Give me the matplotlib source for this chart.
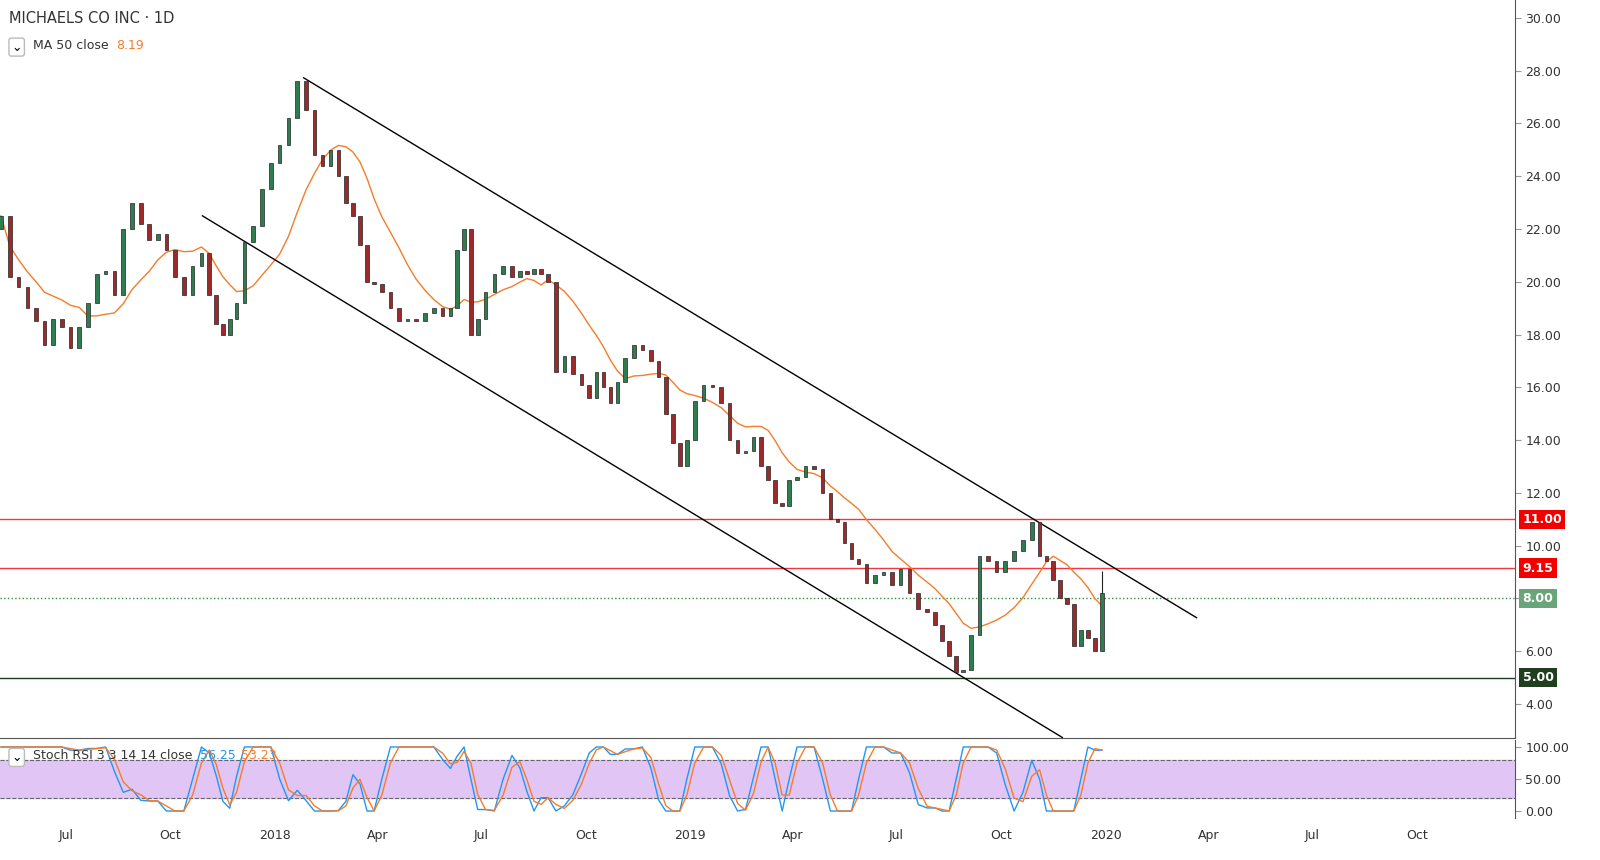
import numpy as np
import pandas as pd
import matplotlib
matplotlib.use('Agg')
import matplotlib.pyplot as plt
import matplotlib.dates as mdates
from matplotlib.patches import Rectangle

# ── Data (weekly closes, grouped by month) ──────────────────────────────────
monthly_closes = {
    '2017-05': [22.5, 20.2, 19.8, 19.0],
    '2017-06': [18.5, 17.6, 18.6, 18.3],
    '2017-07': [17.5, 18.3, 19.2, 20.3],
    '2017-08': [20.4, 19.5, 22.0, 23.0],
    '2017-09': [22.2, 21.6, 21.8, 21.2],
    '2017-10': [20.2, 19.5, 20.6, 21.1],
    '2017-11': [19.5, 18.4, 18.0, 18.6, 19.2],
    '2017-12': [21.5, 22.1, 23.5, 24.5],
    '2018-01': [25.2, 26.2, 27.6, 26.5],
    '2018-02': [24.8, 24.4, 25.0, 24.0],
    '2018-03': [23.0, 22.5, 21.4, 20.0, 19.9],
    '2018-04': [19.6, 19.0, 18.5, 18.6],
    '2018-05': [18.5, 18.8, 19.0, 18.7],
    '2018-06': [19.0, 21.2, 22.0, 18.0, 18.6],
    '2018-07': [19.6, 20.3, 20.6, 20.2],
    '2018-08': [20.4, 20.3, 20.5, 20.3, 20.0],
    '2018-09': [16.6, 17.2, 16.5, 16.1],
    '2018-10': [15.6, 16.6, 16.0, 15.4, 16.2],
    '2018-11': [17.1, 17.6, 17.4, 17.0],
    '2018-12': [16.4, 15.0, 13.9, 13.0, 14.0],
    '2019-01': [15.5, 16.1, 16.0, 15.4],
    '2019-02': [14.0, 13.5, 13.6, 14.1],
    '2019-03': [13.0, 12.5, 11.6, 11.5, 12.5],
    '2019-04': [12.6, 13.0, 12.9, 12.0],
    '2019-05': [11.0, 10.9, 10.1, 9.5, 9.3],
    '2019-06': [8.6, 8.9, 9.0, 8.5],
    '2019-07': [9.1, 8.2, 7.6, 7.5],
    '2019-08': [7.0, 6.4, 5.8, 5.2, 5.3],
    '2019-09': [6.6, 9.6, 9.4, 9.0],
    '2019-10': [9.4, 9.8, 10.2, 10.9],
    '2019-11': [9.6, 9.4, 8.7, 8.0, 7.8],
    '2019-12': [6.2, 6.8, 6.5, 6.0, 8.2],
}
first_open = 22.0
last_high = 9.05

upper_channel = (['2018-01-26', '2020-03-21'], [27.73, 7.27])
lower_channel = (['2017-10-29', '2019-11-24'], [22.50, 2.73])
levels = [11.00, 9.15, 8.00, 5.00]
level_styles = [('#f23645', '-'), ('#f23645', '-'), ('#388e3c', ':'), ('#1b3d1b', '-')]
label_colors = ['#f20000', '#f20000', '#6aa579', '#1f3f1f']

# flatten into weekly series
dates, closes = [], []
for m, vals in monthly_closes.items():
    start = pd.Timestamp(m + '-01')
    ndays = start.days_in_month
    for i, v in enumerate(vals):
        dates.append(start + pd.Timedelta(days=(i + 0.5) * ndays / len(vals)))
        closes.append(v)
closes = np.array(closes)
opens = np.concatenate([[first_open], closes[:-1]])
xd = mdates.date2num(dates)

s = pd.Series(closes)
ma = s.rolling(10, min_periods=1).mean().values

# stoch RSI (short periods because the candles are weekly)
delta = s.diff()
gain = delta.clip(lower=0).rolling(4, min_periods=1).mean()
loss = (-delta.clip(upper=0)).rolling(4, min_periods=1).mean()
rsi = 100 - 100 / (1 + gain / loss.replace(0, 1e-9))
lo, hi = rsi.rolling(4, min_periods=1).min(), rsi.rolling(4, min_periods=1).max()
stoch = ((rsi - lo) / (hi - lo).replace(0, np.nan) * 100).bfill().fillna(50)
k = stoch.rolling(2, min_periods=1).mean()
d = k.rolling(2, min_periods=1).mean()

# ── Figure ─────────────────────────────────────────────────────────────────
W, H = 1600, 860
fig = plt.figure(figsize=(16, 8.6), dpi=100)
fig.patch.set_facecolor('white')
ax = fig.add_axes([0, 1 - 738 / H, 1515 / W, 738 / H])
ax2 = fig.add_axes([0, (H - 818) / H, 1515 / W, 78 / H], sharex=ax)

up_col, dn_col = '#2e7d4f', '#9c2a2a'
width = 3.2
for x, o, c in zip(xd, opens, closes):
    col = up_col if c >= o else dn_col
    ax.add_patch(Rectangle((x - width / 2, min(o, c)), width, max(abs(c - o), 0.05),
                           facecolor=col, edgecolor='#222222', lw=0.5, zorder=3))
ax.vlines(xd[-1], opens[-1], last_high, color='#222222', lw=0.8, zorder=2)

ax.plot(xd, ma, color='#f57c2a', lw=1.0, zorder=2)

for (dts, pr) in [upper_channel, lower_channel]:
    ax.plot(mdates.datestr2num(dts), pr, color='black', lw=1.0, zorder=2)

for lv, (col, ls), lc in zip(levels, level_styles, label_colors):
    ax.axhline(lv, color=col, ls=ls, lw=1.0, zorder=1)
    ax.text(1.005, lv, f'{lv:.2f}', transform=ax.get_yaxis_transform(),
            va='center', ha='left', fontsize=9, color='white', fontweight='bold',
            bbox=dict(boxstyle='square,pad=0.25', fc=lc, ec='none'), clip_on=False)

x0 = mdates.datestr2num('2017-05-04')
x1 = mdates.datestr2num('2020-12-26')
ax.set_xlim(x0, x1)
ax.set_ylim(2.71, 30.68)
ax.yaxis.tick_right()
ax.set_yticks(np.arange(4, 31, 2))
ax.set_yticklabels([f'{v:.2f}' for v in np.arange(4, 31, 2)])
ax.tick_params(axis='y', labelsize=9, colors='#333333', length=4, color='#999999')
ax.tick_params(axis='x', bottom=False, labelbottom=False)
for sp in ['top', 'left']:
    ax.spines[sp].set_visible(False)
ax.spines['right'].set_color('#555555')
ax.spines['bottom'].set_color('#555555')

ax.text(0.006, 0.985, 'MICHAELS CO INC · 1D', transform=ax.transAxes,
        fontsize=10.5, color='#333333', va='top')
t = ax.text(0.022, 0.947, 'MA 50 close', transform=ax.transAxes,
            fontsize=9, color='#333333', va='top')
ax.annotate('8.19', xy=(1, 1), xycoords=t, xytext=(5, 0), textcoords='offset points',
            fontsize=9, color='#f57c2a', va='top')
ax.text(0.011, 0.945, '⌄', transform=ax.transAxes, fontsize=9, va='top', ha='center',
        bbox=dict(boxstyle='round,pad=0.2', fc='white', ec='#bbbbbb'))

# ── Stoch RSI pane ─────────────────────────────────────────────────────────
ax2.axhspan(20, 80, color='#e1c6f5', zorder=0)
ax2.axhline(80, color='#666666', ls='--', lw=0.8)
ax2.axhline(20, color='#666666', ls='--', lw=0.8)
ax2.plot(xd, k, color='#2196f3', lw=1.0)
ax2.plot(xd, d, color='#f57c2a', lw=1.0)
ax2.set_ylim(-10.9, 110.9)
ax2.yaxis.tick_right()
ax2.set_yticks([0, 50, 100])
ax2.set_yticklabels(['0.00', '50.00', '100.00'])
ax2.tick_params(axis='y', labelsize=9, colors='#333333', length=4, color='#999999')
for sp in ['top', 'left', 'bottom']:
    ax2.spines[sp].set_visible(False)
ax2.spines['right'].set_color('#555555')
t2 = ax2.text(0.022, 0.88, 'Stoch RSI 3 3 14 14 close', transform=ax2.transAxes,
              fontsize=9, color='#333333', va='top')
t3 = ax2.annotate('56.25', xy=(1, 1), xycoords=t2, xytext=(5, 0), textcoords='offset points',
                  fontsize=9, color='#2196f3', va='top')
ax2.annotate('53.23', xy=(1, 1), xycoords=t3, xytext=(4, 0), textcoords='offset points',
             fontsize=9, color='#f57c2a', va='top')
ax2.text(0.011, 0.86, '⌄', transform=ax2.transAxes, fontsize=9, va='top', ha='center',
         bbox=dict(boxstyle='round,pad=0.2', fc='white', ec='#bbbbbb'))

ticks = ['2017-07-01', '2017-10-01', '2018-01-01', '2018-04-01', '2018-07-01', '2018-10-01',
         '2019-01-01', '2019-04-01', '2019-07-01', '2019-10-01', '2020-01-01', '2020-04-01',
         '2020-07-01', '2020-10-01']
tick_labels = ['Jul', 'Oct', '2018', 'Apr', 'Jul', 'Oct', '2019', 'Apr', 'Jul', 'Oct',
               '2020', 'Apr', 'Jul', 'Oct']
ax2.set_xticks(mdates.datestr2num(ticks))
ax2.set_xticklabels(tick_labels)
ax2.tick_params(axis='x', labelsize=9, colors='#333333', length=0, pad=8)

fig.savefig('out.png', dpi=100, facecolor='white')
